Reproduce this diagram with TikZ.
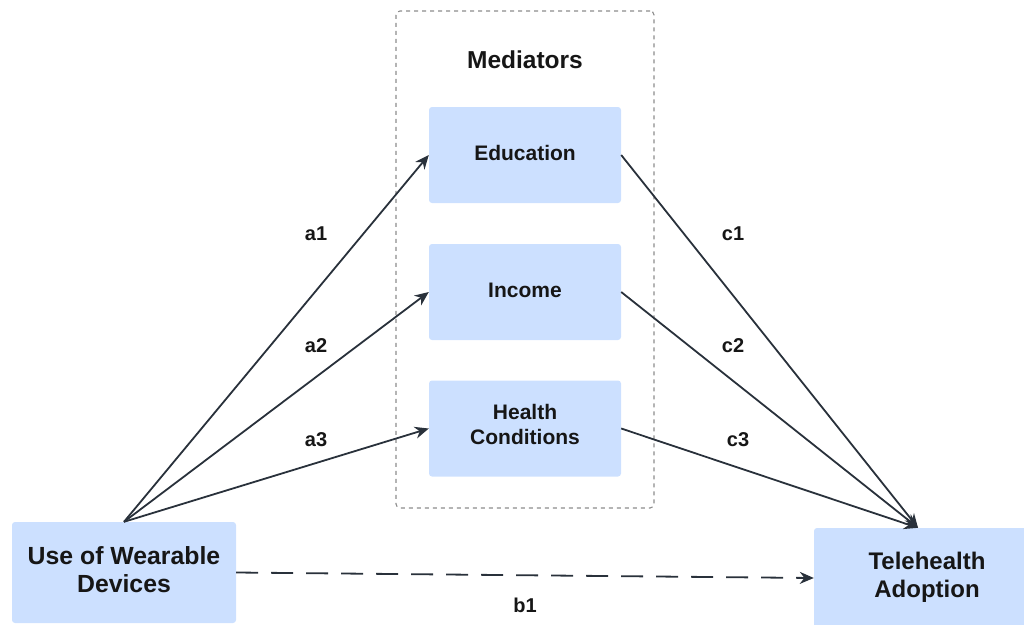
\documentclass[tikz,border=0pt]{standalone}
\usepackage{fontspec}
\setmainfont{Liberation Sans}
\usetikzlibrary{arrows.meta}
\definecolor{boxblue}{HTML}{CCE0FF}
\definecolor{inkdark}{HTML}{161616}
\definecolor{linkdark}{HTML}{29313B}
\definecolor{framegray}{HTML}{8C8C8C}
\tikzset{
  mainbox/.style={fill=boxblue, rounded corners=3pt, minimum width=224pt,
    minimum height=101pt, align=center, text=inkdark, text depth=6pt,
    font=\fontsize{24}{28.5}\selectfont\bfseries},
  medbox/.style={fill=boxblue, rounded corners=3pt, minimum width=192pt,
    minimum height=96pt, align=center, text=inkdark, text depth=4pt,
    font=\fontsize{21}{25}\selectfont\bfseries},
  pathlabel/.style={text=inkdark, font=\fontsize{20}{24}\selectfont\bfseries},
  link/.style={draw=linkdark, line width=1.8pt,
    -{Stealth[length=14pt,width=12pt]}},
  directlink/.style={link, dash pattern=on 22pt off 13pt},
  groupframe/.style={draw=framegray, line width=1.1pt, rounded corners=4pt,
    dash pattern=on 4pt off 4pt}
}
\begin{document}
\begin{tikzpicture}[x=1pt, y=-1pt]
  \useasboundingbox (0,0) rectangle (1024,624);
  \clip (0,0) rectangle (1024,624);

  % group of mediating variables
  \node[groupframe, minimum width=258pt, minimum height=497pt] (group) at (525,259.5) {};
  \node[text=inkdark, font=\fontsize{24.5}{28}\selectfont\bfseries] (grouptitle) at (525,60) {Mediators};

  \node[medbox] (edu) at (525,155) {Education};
  \node[medbox] (inc) at (525,292) {Income};
  \node[medbox, text depth=8pt] (hlth) at (525,428.5) {Health\\Conditions};

  % exposure and outcome
  \node[mainbox, font=\fontsize{24.8}{28.5}\selectfont\bfseries] (wear) at (124,572.5) {Use of Wearable\\Devices};
  \node[mainbox, minimum width=226pt, minimum height=100pt] (tele) at (927,578) {Telehealth\\Adoption};

  % paths a: exposure to mediators
  \draw[link] (wear.north) -- (edu.west);
  \draw[link] (wear.north) -- (inc.west);
  \draw[link] (wear.north) -- (hlth.west);

  % paths c: mediators to outcome
  \draw[link] (edu.east) -- ([xshift=-9pt]tele.north);
  \draw[link] (inc.east) -- ([xshift=-9pt]tele.north);
  \draw[link] (hlth.east) -- ([xshift=-9pt]tele.north);

  % direct path b
  \draw[directlink] (wear.east) -- (tele.west);

  % path labels
  \node[pathlabel] (la1) at (316,234) {a1};
  \node[pathlabel] (la2) at (316,346) {a2};
  \node[pathlabel] (la3) at (316,440) {a3};
  \node[pathlabel] (lc1) at (733,234) {c1};
  \node[pathlabel] (lc2) at (733,346) {c2};
  \node[pathlabel] (lc3) at (738,440) {c3};
  \node[pathlabel] (lb1) at (525,605) {b1};
\end{tikzpicture}
\end{document}
